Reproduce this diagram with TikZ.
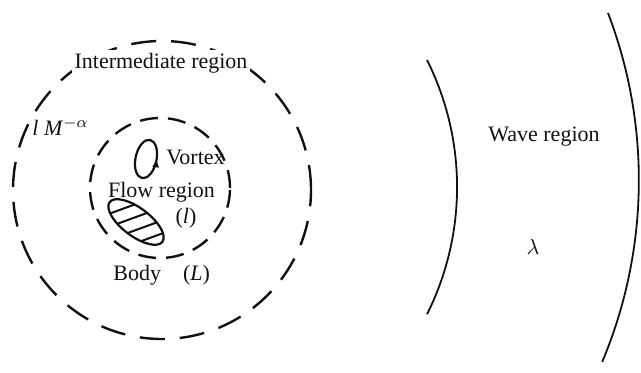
\documentclass[tikz,border=0pt]{standalone}
\usepackage{fontspec}
\setmainfont{Liberation Serif}
\usepackage{tikz}
\usetikzlibrary{arrows.meta,decorations.markings,calc}
\definecolor{inkblack}{HTML}{111111}

\begin{document}
\begin{tikzpicture}[
  x=0.5pt, y=0.5pt,
  font=\fontsize{11}{13}\selectfont,
  lbl/.style={inner sep=0pt, text=inkblack},
  zone/.style={inkblack, line width=1.2pt, dash pattern=on 12.5pt off 7.5pt},
  flowzone/.style={inkblack, line width=1.2pt, dash pattern=on 9pt off 5pt},
  wave/.style={inkblack, line width=0.9pt},
  solid line/.style={inkblack, line width=1.1pt},
  hatch/.style={inkblack, line width=1pt},
]
\useasboundingbox (0,0) rectangle (641,373);

\coordinate (mid) at (162,183);
\coordinate (flow) at (160,185);
\coordinate (vort) at (146,214);
\coordinate (body) at (136,151);

% matched regions
\draw[zone] (mid) circle[radius=149];
\draw[flowzone] (flow) circle[radius=70];

% vortex with its sense of rotation
\draw[solid line, postaction={decorate},
      decoration={markings, mark=at position 0.03 with {\arrow{Latex[length=4.5pt, width=3.5pt]}}}]
  [rotate around={-12:(vort)}] (vort) ellipse[x radius=10.5, y radius=19.5];

% hatched body
\begin{scope}
  \clip[rotate around={-37:(body)}] (body) ellipse[x radius=33, y radius=14];
  \foreach \d in {18,5,-8,-21}
    \draw[hatch] ($(body)+(-45,\d-16.4)$) -- ++(90,32.8);
\end{scope}
\draw[solid line, rotate around={-37:(body)}] (body) ellipse[x radius=33, y radius=14];

% wave fronts
\draw[wave] (427,313) arc[start angle=26.6, end angle=-26.6, radius=284];
\draw[wave] (608,360) arc[start angle=20.9, end angle=-22.8, radius=468.8];

\node[lbl, fill=white, inner sep=1.5pt] (inter) at (161,310) {Intermediate region};
\node[lbl, anchor=west] (scale) at (32,246) {\textit{l M}$^{-\alpha}$};
\node[lbl, anchor=west] (vortex) at (166,216) {Vortex};
\node[lbl] (flowtxt) at (161.5,181) {Flow region};
\node[lbl] (flowlen) at (186,155) {(\textit{l})};
\node[lbl, anchor=west] (bodytxt) at (113,98) {Body\quad(\textit{L})};
\node[lbl] (wavetxt) at (544,236) {Wave region};
\node[lbl] (wavelen) at (533,126) {$\lambda$};
\end{tikzpicture}
\end{document}
